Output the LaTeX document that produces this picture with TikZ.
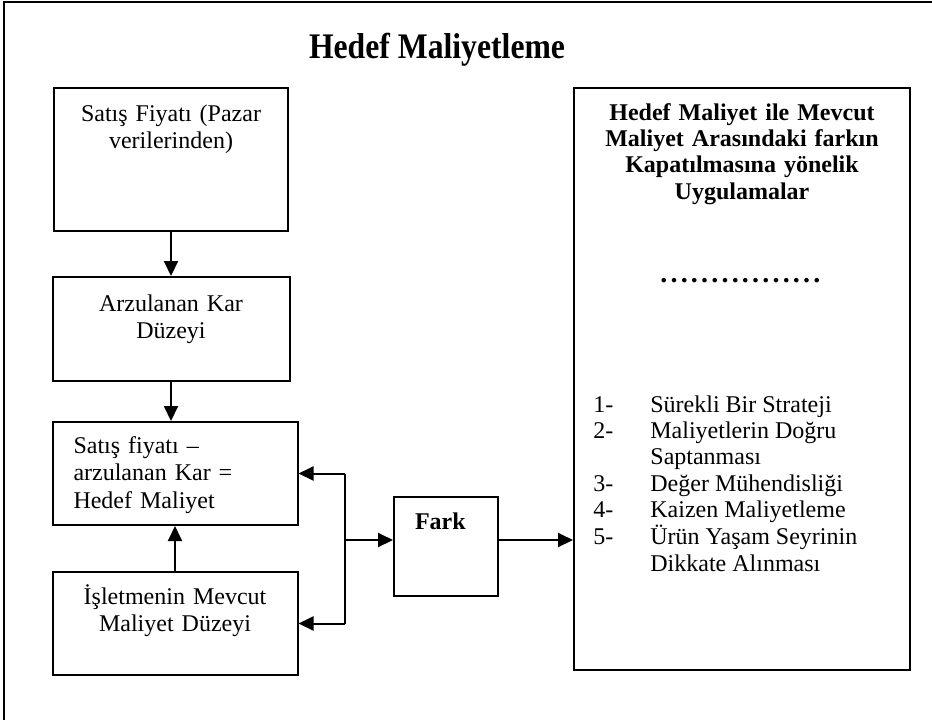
\documentclass[tikz,border=0pt]{standalone}
\usepackage{fontspec}
\setmainfont{Liberation Serif}
\usetikzlibrary{positioning,arrows.meta}
\tikzset{
  box/.style={draw,line width=1pt,inner ysep=0pt,inner xsep=4pt,align=center,font=\fontsize{12}{13.8}\selectfont},
  lbox/.style={box,align=left,inner xsep=10.5pt},
  arrow/.style={-{Triangle[length=7.5pt,width=7pt]},line width=1pt},
  line/.style={line width=1pt},
}
\begin{document}
\begin{tikzpicture}[x=0.5pt,y=-0.5pt]
      \useasboundingbox (0,0) rectangle (932,719);
      \draw[line] (4,2) rectangle (950,740);
      \node[font=\fontsize{18}{21}\selectfont\bfseries,anchor=base] (title) at (437,58) {\scalebox{0.88}[1]{Hedef Maliyetleme}};
      \node[box,text width=109pt,text height=16.5pt,text depth=55pt,anchor=north] (price) at (171,87) {Satış Fiyatı (Pazar\\verilerinden)};
      \node[box,text width=110.5pt,text height=17pt,text depth=35pt,below=22pt of price] (profit) {Arzulanan Kar\\Düzeyi};
      \node[lbox,text width=101.5pt,text height=15.5pt,text depth=36pt,below=19.5pt of profit,xshift=2pt] (target) {Satış fiyatı –\\arzulanan Kar =\\Hedef Maliyet};
      \node[box,text width=114.5pt,text height=16pt,text depth=35.5pt,below=22.5pt of target] (current) {İşletmenin Mevcut\\Maliyet Düzeyi};
      \node[lbox,font=\fontsize{12}{13.8}\selectfont\bfseries,text width=31pt,text height=16pt,text depth=33.5pt,anchor=north west] (diff) at (393,496) {Fark};
      \node[box,font=\fontsize{12}{13.2}\selectfont\bfseries,text width=160pt,text height=16pt,text depth=275pt,anchor=north west] (apps) at (573,87) {Hedef Maliyet ile Mevcut\\Maliyet Arasındaki farkın\\Kapatılmasına yönelik\\Uygulamalar};
      \node[font=\fontsize{14}{16}\selectfont\bfseries,anchor=base,inner sep=0pt] (dots) at ([yshift=-97.5pt]apps.north) {\foreach \d in {1,...,16}{.\kern1.6pt}};
      \node[font=\fontsize{12}{13.2}\selectfont,anchor=base west,inner sep=0pt] (steps) at ([xshift=10pt,yshift=-162.5pt]apps.north west) {%
        \begin{tabular}[t]{@{}p{28.5pt}@{}l@{}}
          1- & Sürekli Bir Strateji\\
          2- & Maliyetlerin Doğru\\
             & Saptanması\\
          3- & Değer Mühendisliği\\
          4- & Kaizen Maliyetleme\\
          5- & Ürün Yaşam Seyrinin\\
             & Dikkate Alınması
        \end{tabular}};
      \coordinate (fork) at (345,540);
      \draw[arrow] (price.south) -- (profit.north);
      \draw[arrow] (profit.south) -- (profit.south |- target.north);
      \draw[arrow] (current) -- (target);
      \draw[line] (fork |- target.east) -- (fork |- current.east);
      \draw[arrow] (fork |- target.east) -- (target.east);
      \draw[arrow] (fork |- current.east) -- (current.east);
      \draw[arrow] (fork) -- (fork -| diff.west);
      \draw[arrow] (fork -| diff.east) -- (fork -| apps.west);
    \end{tikzpicture}
\end{document}
